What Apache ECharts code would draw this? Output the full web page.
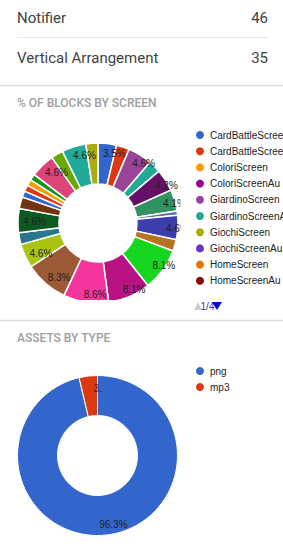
<!DOCTYPE html>
<html><head><meta charset="utf-8">
<script src="https://cdn.jsdelivr.net/npm/echarts@6/dist/echarts.min.js"></script>
<style>html,body{margin:0;padding:0;background:#fff;overflow:hidden}#c{width:283px;height:547px}</style>
</head><body><div id="c"></div>
<script>
// ---- data ----
const listLabels = ['Notifier', 'Vertical Arrangement'];
const listValues = [46, 35];

const screenNames = [
  'CardBattleScreen', 'CardBattleScreenAu', 'ColoriScreen', 'ColoriScreenAu',
  'GiardinoScreen', 'GiardinoScreenAu', 'GiochiScreen', 'GiochiScreenAu',
  'HomeScreen', 'HomeScreenAu',
  'Screen 11', 'Screen 12', 'Screen 13', 'Screen 14', 'Screen 15', 'Screen 16',
  'Screen 17', 'Screen 18', 'Screen 19', 'Screen 20', 'Screen 21', 'Screen 22',
  'Screen 23', 'Screen 24', 'Screen 25', 'Screen 26', 'Screen 27', 'Screen 28',
  'Screen 29', 'Screen 30', 'Screen 31'
];
const screenValues = [
  3.5, 2.5, 0, 0,
  4.6, 2.4, 0, 0,
  0, 0,
  4.2, 4.1, 0.8, 4.6, 2.2, 8.1,
  8.1, 8.6, 8.3, 4.6, 2.2, 4.6,
  2.2, 1.2, 1.2, 1.2, 1.2, 4.6,
  2.3, 4.6, 2.3
];
const screenColors = [
  '#3366cc', '#dc3912', '#ff9900', '#990099',
  '#994499', '#22aa99', '#aaaa11', '#6633cc',
  '#e67300', '#8b0707',
  '#651067', '#329262', '#5574a6', '#3b3eac', '#b77322', '#16d620',
  '#b91383', '#f4359e', '#9c5935', '#a9c413', '#2a778d', '#0c5922',
  '#743411', '#3366cc', '#dc3912', '#ff9900', '#109618', '#dd4477',
  '#66aa00', '#22aa99', '#aaaa11'
];
const legendPageSize = 10;

const assetTypes = ['png', 'mp3'];
const assetValues = [96.3, 3.7];
const assetColors = ['#3366cc', '#dc3912'];

// ---- chart ----
const ARIAL = '"Liberation Sans", Arial, sans-serif';
const chart = echarts.init(document.getElementById('c'), null, {renderer: 'svg', width: 283, height: 547});

const PIE1 = {cx: 98, cy: 223, r0: 39, r: 80, lr: 68};
const PIE2 = {cx: 97.5, cy: 455.5, r0: 40, r: 80, lr: 65};

// labels sit a little further out and to the right, as in the reference
function labelShift(p) {
  return function (params) {
    const rc = params.labelRect;
    const lx = rc.x + rc.width / 2, ly = rc.y + rc.height / 2;
    const k = p.lr / ((p.r0 + p.r) / 2) - 1;
    return {dx: (lx - p.cx) * k + 8, dy: (ly - p.cy) * k + 1};
  };
}

const screenData = screenNames.map((n, i) => ({
  name: n, value: screenValues[i],
  itemStyle: {color: screenColors[i]},
  label: {show: screenValues[i] >= 3}
}));
const assetData = assetTypes.map((n, i) => ({
  name: n, value: assetValues[i],
  itemStyle: {color: assetColors[i]},
  label: assetValues[i] < 10 ? {width: 12, overflow: 'truncate', ellipsis: ''} : {}
}));

const graphics = [];
listLabels.forEach((l, i) => {
  const y = 17.5 + i * 40;
  graphics.push({type: 'text', z: 20, style: {text: l, x: 17, y: y, textVerticalAlign: 'middle', font: '15px Roboto', fill: '#424242'}});
  graphics.push({type: 'text', z: 20, style: {text: String(listValues[i]), x: 268, y: y, textAlign: 'right', textVerticalAlign: 'middle', font: '15px Roboto', fill: '#424242'}});
});
graphics.push({type: 'line', z: 20, shape: {x1: 17, y1: 37.5, x2: 268, y2: 37.5}, style: {stroke: '#e6e6e6', lineWidth: 1}});
graphics.push({type: 'line', z: 20, shape: {x1: 0, y1: 85.5, x2: 283, y2: 85.5}, style: {stroke: '#dedede', lineWidth: 1.5}});
graphics.push({type: 'text', z: 20, style: {text: '% OF BLOCKS BY SCREEN', x: 17, y: 103, textVerticalAlign: 'middle', font: '500 12px Roboto', fill: '#9e9e9e'}});
// clip the first donut like the reference panel does
graphics.push({type: 'rect', z: 10, shape: {x: 180.5, y: 120, width: 12, height: 200}, style: {fill: '#fff'}});
graphics.push({type: 'rect', z: 10, shape: {x: 0, y: 300, width: 192, height: 20}, style: {fill: '#fff'}});
// legend pager (page 1 of N)
const pageCount = Math.ceil(screenNames.length / legendPageSize);
graphics.push({type: 'polygon', z: 20, shape: {points: [[194, 310], [202, 310], [198, 302]]}, style: {fill: '#cccccc'}});
graphics.push({type: 'text', z: 20, style: {text: '1/' + pageCount, x: 207.5, y: 306, textAlign: 'center', textVerticalAlign: 'middle', font: '10px "Liberation Sans", Arial', fill: '#3333cc'}});
graphics.push({type: 'polygon', z: 21, shape: {points: [[212, 302], [222, 302], [217, 310]]}, style: {fill: '#0011cc'}});
graphics.push({type: 'line', z: 20, shape: {x1: 0, y1: 320.5, x2: 283, y2: 320.5}, style: {stroke: '#dedede', lineWidth: 1.5}});
graphics.push({type: 'text', z: 20, style: {text: 'ASSETS BY TYPE', x: 17, y: 338, textVerticalAlign: 'middle', font: '500 12px Roboto', fill: '#9e9e9e'}});

const legendText = {fontSize: 10, fontFamily: ARIAL, color: '#222', lineHeight: 12};

chart.setOption({
  animation: false,
  graphic: graphics,
  legend: [{
    orient: 'vertical', left: 194, top: 129, padding: 0,
    icon: 'circle', itemWidth: 10, itemHeight: 10, itemGap: 4.2,
    selectedMode: false,
    textStyle: legendText,
    data: screenNames.slice(0, legendPageSize)
  }, {
    orient: 'vertical', left: 194, top: 365, padding: 0,
    icon: 'circle', itemWidth: 10, itemHeight: 10, itemGap: 4,
    selectedMode: false,
    textStyle: legendText,
    data: assetTypes
  }],
  series: [{
    type: 'pie', center: [PIE1.cx, PIE1.cy], radius: [PIE1.r0, PIE1.r], startAngle: 90, clockwise: true,
    avoidLabelOverlap: false, stillShowZeroSum: true,
    itemStyle: {borderColor: '#fff', borderWidth: 1.5},
    label: {position: 'inside', formatter: '{c}%', fontSize: 10, fontFamily: ARIAL, color: '#222'},
    labelLine: {show: false},
    labelLayout: labelShift(PIE1),
    emphasis: {disabled: true},
    data: screenData
  }, {
    type: 'pie', center: [PIE2.cx, PIE2.cy], radius: [PIE2.r0, PIE2.r], startAngle: 90, clockwise: true,
    avoidLabelOverlap: false,
    itemStyle: {borderColor: '#fff', borderWidth: 1},
    label: {position: 'inside', formatter: '{c}%', fontSize: 10, fontFamily: ARIAL, color: '#222'},
    labelLine: {show: false},
    labelLayout: labelShift(PIE2),
    emphasis: {disabled: true},
    data: assetData
  }]
});
</script>
</body></html>
